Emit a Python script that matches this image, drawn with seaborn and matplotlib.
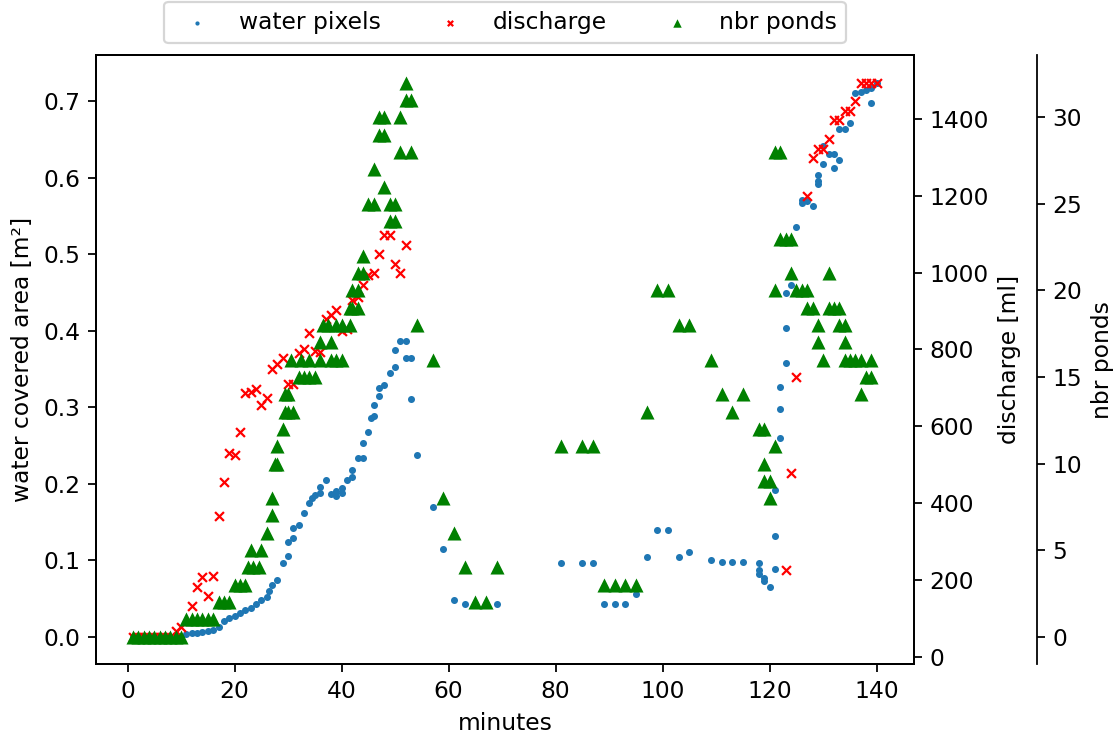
import numpy as np
import pandas as pd
import seaborn as sns
import matplotlib.pyplot as plt

# %% data
# water covered area [m2] (water pixels)
area_t = [1, 2, 3, 4, 5, 6, 7, 8, 9, 10,
          11, 12, 13, 14, 15, 16, 17, 18, 19, 20,
          21, 22, 23, 24, 25, 26, 26.5, 27, 28, 29,
          30, 30, 31, 31, 32, 33, 34, 34.5, 35, 36,
          36, 37, 38, 39, 39, 40, 40, 41, 42, 42,
          43, 44, 44, 45, 45.5, 46, 46, 47, 47, 48,
          49, 50, 50, 51, 52, 52, 53, 53, 54, 57,
          59, 61, 63, 65, 67, 69, 81, 85, 87, 89,
          91, 93, 95, 97, 99, 101, 103, 105, 109, 111,
          113, 115, 118, 118, 118, 119, 119, 120, 121, 121,
          121, 122, 122, 122, 123, 123, 123, 124, 125, 126,
          126, 127, 128, 129, 129, 129, 130, 130, 131, 132,
          132, 133, 133, 134, 135, 136, 137, 138, 139, 139,
          140]
area_v = [0.0, 0.0, 0.0, 0.0, 0.0, 0.0, 0.0, 0.0, 0.0, 0.0,
          0.004, 0.005, 0.005, 0.006, 0.007, 0.009, 0.013, 0.021, 0.024, 0.027,
          0.031, 0.035, 0.038, 0.042, 0.048, 0.052, 0.059, 0.068, 0.074, 0.096,
          0.105, 0.124, 0.129, 0.142, 0.146, 0.161, 0.175, 0.181, 0.185, 0.188,
          0.196, 0.205, 0.186, 0.184, 0.190, 0.194, 0.188, 0.205, 0.209, 0.218,
          0.233, 0.233, 0.253, 0.268, 0.286, 0.289, 0.303, 0.314, 0.325, 0.329,
          0.345, 0.353, 0.375, 0.386, 0.386, 0.364, 0.364, 0.311, 0.238, 0.170,
          0.114, 0.048, 0.042, 0.042, 0.042, 0.042, 0.096, 0.096, 0.096, 0.043,
          0.043, 0.043, 0.056, 0.104, 0.139, 0.139, 0.104, 0.110, 0.100, 0.098,
          0.097, 0.097, 0.096, 0.087, 0.082, 0.076, 0.073, 0.065, 0.088, 0.131,
          0.191, 0.260, 0.298, 0.326, 0.358, 0.404, 0.449, 0.459, 0.535, 0.567,
          0.571, 0.569, 0.563, 0.591, 0.596, 0.603, 0.618, 0.641, 0.631, 0.631,
          0.613, 0.623, 0.663, 0.663, 0.672, 0.710, 0.712, 0.715, 0.717, 0.698,
          0.724]

# discharge [ml]
dis_t = [1, 2, 3, 4, 5, 6, 7, 8, 9, 10,
         12, 13, 14, 15, 16, 17, 18, 19, 20, 21,
         22, 23, 24, 25, 26, 27, 28, 29, 30, 31,
         32, 33, 34, 35, 36, 37, 38, 39, 40, 41,
         42, 43, 44, 45, 46, 47, 48, 49, 50, 51,
         52, 123, 124, 125, 127, 128, 129, 130, 131, 132,
         133, 134, 135, 136, 137, 138, 139, 140]
dis_v = [52, 52, 52, 52, 52, 52, 52, 52, 67, 77,
         131, 181, 206, 157, 211, 365, 455, 530, 525, 584,
         686, 690, 696, 655, 673, 749, 762, 778, 710, 711,
         790, 800, 844, 795, 793, 879, 890, 902, 849, 853,
         928, 938, 969, 995, 999, 1049, 1097, 1097, 1023, 999,
         1073, 225, 479, 729, 1199, 1298, 1323, 1323, 1349, 1398,
         1398, 1421, 1421, 1447, 1495, 1495, 1495, 1495]

# number of ponds
pond_t = [1, 2, 3, 4, 5, 6, 7, 8, 9, 10,
          11, 12, 13, 14, 15, 16, 17, 18, 19, 20,
          21, 22, 22.5, 23.5, 24.5, 23, 25, 26, 27, 27,
          27.5, 28, 28, 29, 29.5, 30, 31, 29.5, 30, 32,
          33, 34, 35, 30.5, 32.5, 34, 36, 38, 39, 40,
          36, 38, 36.5, 37.5, 39, 40, 41.5, 41.5, 42, 43,
          42, 43, 43, 44, 44, 49, 50, 45, 46, 49,
          50, 48, 46, 51, 53, 47, 48, 47, 48, 51,
          52, 53, 52, 54, 57, 59, 61, 63, 65, 67,
          69, 81, 85, 87, 89, 91, 93, 95, 97, 99,
          101, 103, 105, 109, 111, 113, 115, 118, 119, 119,
          119, 120, 120, 121, 121, 121, 122, 122, 123, 124,
          124, 125, 126, 127, 127, 128, 129, 129, 130, 131,
          131, 132, 133, 133, 134, 134, 134, 135, 136, 137,
          139, 138, 139, 137]
pond_v = [0, 0, 0, 0, 0, 0, 0, 0, 0, 0,
          1, 1, 1, 1, 1, 1, 2, 2, 2, 3,
          3, 3, 4, 4, 4, 5, 5, 6, 7, 8,
          10, 10, 11, 12, 13, 13, 13, 14, 14, 15,
          15, 15, 15, 16, 16, 16, 16, 16, 16, 16,
          17, 17, 18, 18, 18, 18, 18, 19, 19, 19,
          20, 20, 21, 21, 22, 24, 24, 25, 25, 25,
          25, 26, 27, 28, 28, 29, 29, 30, 30, 30,
          31, 31, 32, 18, 16, 8, 6, 4, 2, 2,
          4, 11, 11, 11, 3, 3, 3, 3, 13, 20,
          20, 18, 18, 16, 14, 13, 14, 12, 12, 10,
          9, 9, 8, 11, 20, 28, 28, 23, 23, 23,
          21, 20, 20, 20, 19, 19, 18, 17, 16, 21,
          19, 19, 19, 18, 18, 17, 16, 16, 16, 16,
          16, 15, 15, 14]

area = pd.DataFrame({"minutes": area_t, "area": area_v})
discharge = pd.DataFrame({"minutes": dis_t, "discharge": dis_v})
ponds = pd.DataFrame({"minutes": pond_t, "ponds": pond_v})

# %% figure
plt.rcParams['font.family'] = ['DejaVu Sans']
plt.rcParams['font.size'] = 10.5
fig, ax = plt.subplots(figsize=(1118 / 160, 734 / 160), dpi=160)
fig.subplots_adjust(left=0.0856, right=0.8175, bottom=0.095, top=0.925)
ax2 = ax.twinx()
ax3 = ax.twinx()
ax3.spines['right'].set_position(('axes', 1.15))

sns.scatterplot(data=area, x="minutes", y="area", ax=ax, marker='.',
                color='C0', s=40, linewidth=0, label='water pixels',
                legend=False)
sns.scatterplot(data=discharge, x="minutes", y="discharge", ax=ax2,
                marker='x', color='r', s=16, linewidth=1,
                label='discharge', legend=False)
sns.scatterplot(data=ponds, x="minutes", y="ponds", ax=ax3, marker='^',
                color='g', s=40, linewidth=0, label='nbr ponds',
                legend=False)

ax.set_xlabel('minutes')
ax.set_ylabel('water covered area [m²]')
ax2.set_ylabel('discharge [ml]')
ax3.set_ylabel('nbr ponds')

handles, labels = [], []
for a in (ax, ax2, ax3):
    h, l = a.get_legend_handles_labels()
    handles += h
    labels += l
ax.legend(handles, labels, loc='lower center', bbox_to_anchor=(0.5, 1.0),
          ncol=3, markerscale=0.6)

plt.savefig("out.png", dpi=160)
plt.close()
